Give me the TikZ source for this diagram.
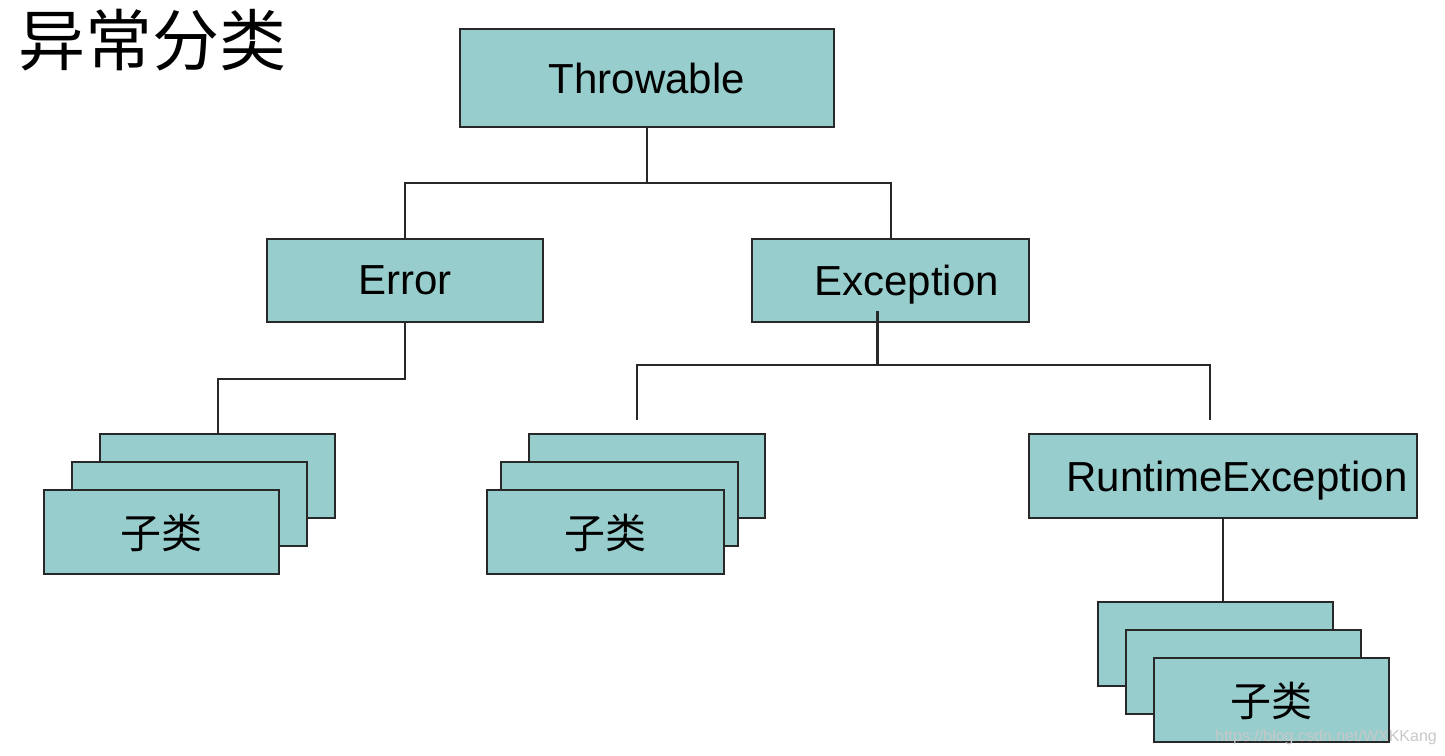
\documentclass[tikz,border=0pt]{standalone}
\usepackage{fontspec}
\setmainfont{Liberation Sans}
\newfontfamily\cjk{Noto Sans CJK SC}
\definecolor{boxfill}{RGB}{152,205,205}
\definecolor{boxline}{RGB}{40,40,40}
\definecolor{wm}{RGB}{200,200,200}
\tikzset{
  box/.style={draw=boxline, fill=boxfill, line width=2pt, inner sep=0pt,
    anchor=north west, text depth=0pt, font=\fontsize{42}{48}\selectfont},
  sub/.style={box, minimum width=235pt, minimum height=84pt},
  subtxt/.style={sub, text depth=0.22em, font=\cjk\fontsize{41}{48}\selectfont},
  conn/.style={draw=boxline, line width=2pt},
}
\begin{document}
\begin{tikzpicture}
\useasboundingbox (0,0) rectangle (1445pt,-755pt);
% title
\node[anchor=west, font=\cjk\fontsize{67}{72}\selectfont, inner sep=0pt] (title) at (18pt,-40pt) {异常分类};
% main boxes
\node[box, minimum width=374pt, minimum height=98pt] (thr) at (459pt,-28pt) {Throwable};
\node[box, minimum width=276pt, minimum height=83pt] (err) at (266pt,-238pt) {Error};
\node[box, minimum width=277pt, minimum height=83pt] (exc) at (751pt,-238pt) {\hspace*{32pt}Exception};
\node[box, minimum width=388pt, minimum height=84pt] (rt) at (1028pt,-433pt) {\hspace*{28pt}RuntimeException};
% left stack
\node[sub] (l1) at (99pt,-433pt) {};
\node[sub] (l2) at (71pt,-461pt) {};
\node[subtxt] (l3) at (43pt,-489pt) {子类};
% middle stack
\node[sub, minimum width=236pt] (m1) at (528pt,-433pt) {};
\node[sub, minimum width=237pt] (m2) at (500pt,-461pt) {};
\node[subtxt, minimum width=237pt] (m3) at (486pt,-489pt) {子类};
% right stack
\node[sub] (r1) at (1097pt,-601pt) {};
\node[sub] (r2) at (1125pt,-629pt) {};
\node[subtxt] (r3) at (1153pt,-657pt) {子类};
% connectors
\coordinate (j1) at ([yshift=-55pt]thr.south);
\draw[conn] (thr.south) -- (j1);
\draw[conn] (err.north) |- (j1) -| (exc.north);
\coordinate (j2) at ([yshift=-56pt]err.south);
\draw[conn] (err.south) -- (j2) -| (l1.north);
\coordinate (e0) at (877pt,-311pt);
\coordinate (ej) at (877pt,-365pt);
\coordinate (mt) at (637pt,-420pt);
\coordinate (rtt) at (1210pt,-420pt);
\draw[conn, line width=3pt] (e0) -- (ej);
\draw[conn] (mt) |- (ej) -| (rtt);
\draw[conn] (rt.south) -- (rt.south |- r1.north);
% watermark
\node[anchor=east, text=wm, font=\fontsize{16}{18}\selectfont, inner sep=0pt] (wmk) at (1437pt,-737pt) {https://blog.csdn.net/WXKKang};
\end{tikzpicture}
\end{document}
